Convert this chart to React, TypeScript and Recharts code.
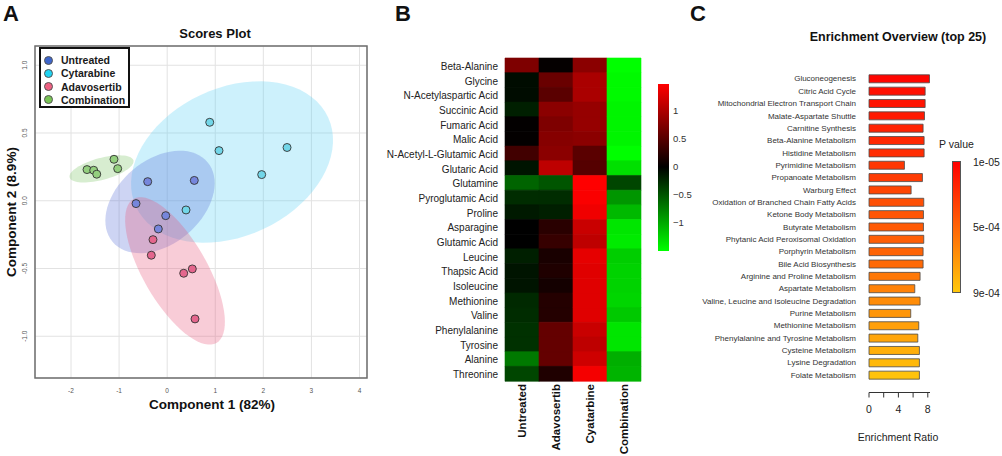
import { ScatterChart, Scatter, XAxis, YAxis, CartesianGrid, ReferenceArea, BarChart, Bar, Cell } from 'recharts'

const FONT = '"Liberation Sans", Arial, Helvetica, sans-serif'

// ---------- Panel A: scores plot ----------
const groups = ['Untreated', 'Cytarabine', 'Adavosertib', 'Combination']
const legendColors = ['#3e66cc', '#1fd3f2', '#ee6182', '#79c455']
const pointColors = ['#7686dc', '#72d6e8', '#e4668d', '#93cf7e']
const ellipseColors = ['#5a6fd6', '#5bd2f5', '#e8557a', '#7bc362']

const untreated = [
    { x: -0.405, y: 0.141 }, { x: 0.564, y: 0.15 }, { x: -0.648, y: -0.021 }, { x: -0.03, y: -0.11 }, { x: -0.184, y: -0.208 },
]
const cytarabine = [
    { x: 0.885, y: 0.579 }, { x: 1.078, y: 0.37 }, { x: 2.493, y: 0.393 }, { x: 1.966, y: 0.193 }, { x: 0.392, y: -0.068 },
]
const adavosertib = [
    { x: -0.295, y: -0.287 }, { x: -0.33, y: -0.402 }, { x: 0.344, y: -0.535 }, { x: 0.523, y: -0.503 }, { x: 0.579, y: -0.872 },
]
const combination = [
    { x: -1.667, y: 0.23 }, { x: -1.528, y: 0.225 }, { x: -1.465, y: 0.196 }, { x: -1.106, y: 0.306 }, { x: -1.029, y: 0.237 },
]
const groupPoints = [untreated, cytarabine, adavosertib, combination]

// confidence ellipses: centre plus the two half-axis vectors, in data units
const ellipseCentres = [[-0.149, -0.009], [1.349, 0.286], [0.163, -0.518], [-1.366, 0.235]]
const ellipseMajor = [[0.988, 0.294], [1.997, 0.331], [0.863, -0.531], [0.663, 0.063]]
const ellipseMinor = [[0.562, -0.238], [0.651, -0.495], [0.576, 0.118], [0.059, -0.078]]
const ellipseOrder = [1, 0, 2, 3]

const xTicksA = [-2, -1, 0, 1, 2, 3, 4]
const yTicksA = [-1, -0.5, 0, 0.5, 1]

function outline(i: number) {
    const [cx, cy] = ellipseCentres[i]
    const [ux, uy] = ellipseMajor[i]
    const [vx, vy] = ellipseMinor[i]
    const pts = []
    for (let k = 0; k <= 72; k++) {
        const t = (k / 72) * Math.PI * 2
        pts.push({ x: cx + Math.cos(t) * ux + Math.sin(t) * vx, y: cy + Math.cos(t) * uy + Math.sin(t) * vy })
    }
    return pts
}

// ---------- Panel B: heatmap ----------
const metabolites = [
    'Beta-Alanine', 'Glycine', 'N-Acetylaspartic Acid', 'Succinic Acid', 'Fumaric Acid', 'Malic Acid',
    'N-Acetyl-L-Glutamic Acid', 'Glutaric Acid', 'Glutamine', 'Pyroglutamic Acid', 'Proline', 'Asparagine',
    'Glutamic Acid', 'Leucine', 'Thapsic Acid', 'Isoleucine', 'Methionine', 'Valine', 'Phenylalanine',
    'Tyrosine', 'Alanine', 'Threonine',
]
const heatColumns = ['Untreated', 'Adavosertib', 'Cyatarbine', 'Combination']
const zUntreated = [0.74, -0.07, -0.07, -0.18, 0.02, 0.02, 0.38, -0.12, -0.59, -0.26, -0.15, 0.0, 0.0, -0.18, -0.12, -0.12, -0.24, -0.26, -0.29, -0.29, -0.71, -0.41]
const zAdavosertib = [0.03, 0.62, 0.53, 0.82, 0.74, 0.79, 0.82, 1.12, -0.5, -0.26, -0.18, 0.24, 0.32, 0.15, 0.18, 0.12, 0.21, 0.21, 0.59, 0.59, 0.59, 0.18]
const zCytarabine = [0.82, 1.0, 1.0, 0.88, 0.88, 0.82, 0.53, 0.5, 1.5, 1.47, 1.41, 1.18, 1.12, 1.35, 1.32, 1.32, 1.32, 1.32, 1.18, 1.12, 1.21, 1.44]
const zCombination = [-1.5, -1.47, -1.47, -1.44, -1.44, -1.44, -1.5, -1.32, -0.41, -0.88, -1.09, -1.35, -1.38, -1.21, -1.24, -1.24, -1.26, -1.18, -1.35, -1.35, -1.03, -1.06]
const zColumns = [zUntreated, zAdavosertib, zCytarabine, zCombination]
const heatScaleTicks = ['1', '0.5', '0', '−0.5', '−1']

function heat(v: number) {
    const c = Math.round(255 * Math.min(1, Math.abs(v) / 1.5))
    return v >= 0 ? `rgb(${c},0,0)` : `rgb(0,${c},0)`
}

// ---------- Panel C: enrichment ----------
const pathways = [
    'Gluconeogenesis', 'Citric Acid Cycle', 'Mitochondrial Electron Transport Chain', 'Malate-Aspartate Shuttle',
    'Carnitine Synthesis', 'Beta-Alanine Metabolism', 'Histidine Metabolism', 'Pyrimidine Metabolism',
    'Propanoate Metabolism', 'Warburg Effect', 'Oxidation of Branched Chain Fatty Acids', 'Ketone Body Metabolism',
    'Butyrate Metabolism', 'Phytanic Acid Peroxisomal Oxidation', 'Porphyrin Metabolism', 'Bile Acid Biosynthesis',
    'Arginine and Proline Metabolism', 'Aspartate Metabolism', 'Valine, Leucine and Isoleucine Degradation',
    'Purine Metabolism', 'Methionine Metabolism', 'Phenylalanine and Tyrosine Metabolism', 'Cysteine Metabolism',
    'Lysine Degradation', 'Folate Metabolism',
]
const enrichment = [8.23, 7.64, 7.64, 7.55, 7.36, 7.5, 7.5, 4.82, 7.27, 5.73, 7.45, 7.41, 7.41, 7.45, 7.36, 7.36, 6.95, 6.23, 6.95, 5.68, 6.77, 6.64, 6.86, 6.86, 6.86]
const pValues = [3.2e-5, 7.7e-5, 9.9e-5, 1.21e-4, 1.66e-4, 1.88e-4, 2.1e-4, 2.55e-4, 2.77e-4, 3.2e-4, 3.66e-4, 3.88e-4, 4.1e-4, 4.33e-4, 4.55e-4, 4.77e-4, 5.44e-4, 5.89e-4, 6.33e-4, 6.78e-4, 7.22e-4, 7.44e-4, 7.89e-4, 8.33e-4, 8.78e-4]
const pScaleTicks = ['1e-05', '5e-04', '9e-04']

function pColor(p: number) {
    const t = Math.max(0, Math.min(1, (p - 1e-5) / (9e-4 - 1e-5)))
    return `rgb(255,${Math.round(200 * t)},${Math.round(12 * t)})`
}

const heatData = metabolites.map((name, i) => ({ name, i }))
const enrichData = pathways.map((name, i) => ({ name, ratio: enrichment[i], p: pValues[i] }))

function Txt({ x, y, s, fs, bold, align = 'c', rot, color = '#111' }: any) {
    const tx = align === 'c' ? '-50%' : align === 'r' ? '-100%' : '0'
    return (
        <div style={{
            position: 'absolute', left: x, top: y, transform: `translate(${tx}, -50%)${rot ? ' rotate(-90deg)' : ''}`,
            fontSize: fs, fontWeight: bold ? 700 : 400, color, whiteSpace: 'nowrap', lineHeight: 1, fontFamily: FONT,
        }}>{s}</div>
    )
}

const RotYTick = ({ x, y, payload }: any) => (
    <text x={x} y={y} transform={`rotate(-90, ${x}, ${y})`} textAnchor="middle" dominantBaseline="central" fontSize={6.5} fill="#555" fontFamily={FONT}>
        {payload.value.toFixed(1)}
    </text>
)

const XTickA = ({ x, y, payload }: any) => (
    <text x={x} y={y} textAnchor="middle" dominantBaseline="central" fontSize={6.5} fill="#555" fontFamily={FONT}>
        {payload.value}
    </text>
)

const ColumnTick = ({ x, y, payload }: any) => (
    <text x={x} y={y} transform={`rotate(-90, ${x}, ${y})`} textAnchor="end" dominantBaseline="central" fontSize={11.5} fontWeight={700} fill="#111" fontFamily={FONT}>
        {heatColumns[Math.floor(payload.value)]}
    </text>
)

const RowTick = ({ x, y, payload, fs, color, dy }: any) => (
    <text x={x} y={y + dy} textAnchor="end" dominantBaseline="central" fontSize={fs} fill={color} fontFamily={FONT}>
        {payload.value}
    </text>
)

export default function App() {
    return (
        <div style={{ position: 'absolute', left: 0, top: 0, width: 1002, height: 456, background: '#fff', fontFamily: FONT, overflow: 'hidden' }}>
            {/* A */}
            <div style={{ position: 'absolute', left: 0, top: 0 }}>
                <ScatterChart width={380} height={420} margin={{ top: 46, right: 13, bottom: 12, left: 15 }}>
                    <CartesianGrid stroke="#e2e2e2" />
                    <XAxis type="number" dataKey="x" domain={[-2.749, 4.156]} ticks={xTicksA} allowDataOverflow height={30}
                        axisLine={false} tickLine={false} tickSize={0} tickMargin={12} tick={<XTickA />} />
                    <YAxis type="number" dataKey="y" domain={[-1.308, 1.142]} ticks={yTicksA} allowDataOverflow width={20}
                        axisLine={false} tickLine={false} tickSize={0} tickMargin={10} tick={<RotYTick />} />
                    {ellipseOrder.map(i => (
                        <Scatter key={'e' + i} data={outline(i)} isAnimationActive={false} legendType="none"
                            shape={() => <g />} line={{ fill: ellipseColors[i], fillOpacity: 0.3, stroke: 'none' }} lineType="joint" />
                    ))}
                    {groupPoints.map((pts, i) => (
                        <Scatter key={groups[i]} name={groups[i]} data={pts} isAnimationActive={false}
                            shape={(p: any) => <circle cx={p.cx} cy={p.cy} r={4} fill={pointColors[i]} stroke="#333" strokeWidth={0.9} />} />
                    ))}
                    <ReferenceArea x1={-2.749} x2={4.156} y1={-1.308} y2={1.142} fill="none" stroke="#6e6e6e" strokeWidth={1.5} ifOverflow="visible" />
                </ScatterChart>
            </div>
            <div style={{ position: 'absolute', left: 39, top: 47, width: 91, height: 61, boxSizing: 'border-box', border: '2px solid #111', background: '#fff' }}>
                {groups.map((g, i) => (
                    <div key={g} style={{ position: 'absolute', left: 3, top: 5 + i * 13.3, display: 'flex', alignItems: 'center', height: 12 }}>
                        <span style={{ width: 9, height: 9, borderRadius: '50%', background: legendColors[i], border: '0.5px solid #555', boxSizing: 'border-box' }} />
                        <span style={{ marginLeft: 8, fontSize: 10.5, fontWeight: 700, color: '#1a1a1a' }}>{g}</span>
                    </div>
                ))}
            </div>
            <Txt x={3} y={14} s="A" fs={22} bold align="l" />
            <Txt x={215} y={32.5} s="Scores Plot" fs={13} bold />
            <Txt x={212} y={405} s="Component 1 (82%)" fs={13.5} bold />
            <Txt x={12} y={212} s="Component 2 (8.9%)" fs={13.5} bold rot />

            {/* B */}
            <div style={{ position: 'absolute', left: 383, top: 0 }}>
                <BarChart width={262} height={456} data={heatData} layout="vertical" barCategoryGap={0}
                    margin={{ top: 58, right: 4, bottom: 5, left: 0 }}>
                    <XAxis type="number" domain={[0, 4]} ticks={[0.5, 1.5, 2.5, 3.5]} height={70}
                        axisLine={false} tickLine={false} tickSize={0} tickMargin={3} tick={<ColumnTick />} />
                    <YAxis type="category" dataKey="name" width={122} interval={0}
                        axisLine={false} tickLine={false} tickSize={0} tickMargin={7} tick={<RowTick fs={10} color="#222" dy={1} />} />
                    {zColumns.map((col, j) => (
                        <Bar key={heatColumns[j]} dataKey={() => 1} stackId="heat" isAnimationActive={false}>
                            {col.map((v, i) => <Cell key={i} fill={heat(v)} stroke={heat(v)} strokeWidth={0.6} />)}
                        </Bar>
                    ))}
                </BarChart>
            </div>
            <div style={{ position: 'absolute', left: 658, top: 84, width: 10.5, height: 167, background: 'linear-gradient(to bottom, rgb(255,0,0), rgb(0,0,0) 49.7%, rgb(0,255,0))' }} />
            {heatScaleTicks.map((t, i) => (
                <Txt key={t} x={673} y={111 + i * 28} s={t} fs={9.5} align="l" color="#333" />
            ))}
            <Txt x={395} y={14} s="B" fs={22} bold align="l" />

            {/* C */}
            <div style={{ position: 'absolute', left: 700, top: 0 }}>
                <BarChart width={240} height={456} data={enrichData} layout="vertical"
                    margin={{ top: 72.8, right: 10, bottom: 33.5, left: 0 }}>
                    <XAxis type="number" domain={[0, 8.3]} ticks={[0, 2, 4, 6, 8]} height={30}
                        tickFormatter={(v: number) => (v % 4 === 0 ? String(v) : '')}
                        axisLine={{ stroke: '#333' }} tickLine={{ stroke: '#333' }} tickSize={5} tickMargin={8}
                        tick={{ fontSize: 10.5, fill: '#222', fontFamily: FONT }} />
                    <YAxis type="category" dataKey="name" width={169} interval={0} padding={{ top: 0, bottom: 11 }}
                        axisLine={false} tickLine={false} tickSize={0} tickMargin={13} tick={<RowTick fs={8} color="#333" dy={0} />} />
                    <Bar dataKey="ratio" barSize={8} stroke="#4a4a4a" strokeWidth={0.8} isAnimationActive={false}>
                        {enrichData.map((d, i) => <Cell key={i} fill={pColor(d.p)} />)}
                    </Bar>
                </BarChart>
            </div>
            <div style={{ position: 'absolute', left: 951.5, top: 161, width: 9.5, height: 132, boxSizing: 'border-box', border: '1px solid #555', background: `linear-gradient(to bottom, ${pColor(1e-5)}, ${pColor(9e-4)})` }} />
            <Txt x={939} y={144} s="P value" fs={10.5} align="l" color="#222" />
            <Txt x={973} y={162} s={pScaleTicks[0]} fs={10.5} align="l" color="#222" />
            <Txt x={973} y={227} s={pScaleTicks[1]} fs={10.5} align="l" color="#222" />
            <Txt x={973} y={293} s={pScaleTicks[2]} fs={10.5} align="l" color="#222" />
            <Txt x={898} y={37} s="Enrichment Overview (top 25)" fs={12.5} bold />
            <Txt x={898} y={437} s="Enrichment Ratio" fs={10.5} color="#222" />
            <Txt x={690} y={14} s="C" fs={22} bold align="l" />
        </div>
    )
}
